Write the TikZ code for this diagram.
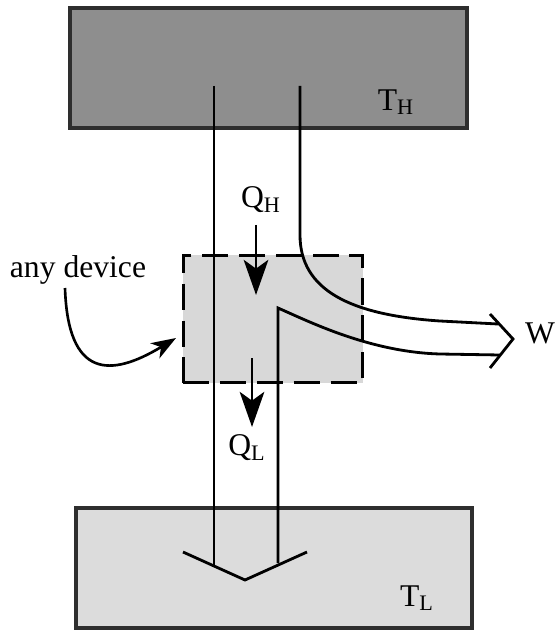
\documentclass[tikz,border=0pt]{standalone}
\usepackage{fontspec}
\setmainfont{Liberation Serif}
\usetikzlibrary{arrows.meta}
\definecolor{hotfill}{HTML}{8E8E8E}
\definecolor{coldfill}{HTML}{DCDCDC}
\definecolor{devfill}{HTML}{D8D8D8}
\definecolor{edge}{HTML}{2E2E2E}
\tikzset{reservoir/.style={draw=edge,line width=2.3pt,minimum width=7.94cm,minimum height=2.4cm,inner sep=0pt},
devbox/.style={draw=black,fill=devfill,line width=1.7pt,dash pattern=on 15pt off 6pt,minimum width=3.6cm,minimum height=2.56cm,inner sep=0pt},
flow/.style={line width=1.6pt,black,line join=miter},
heat/.style={-{Stealth[length=20pt,width=14pt,inset=5pt]},line width=1.6pt},
lab/.style={font=\fontsize{18}{20}\selectfont,text=black,inner sep=0pt}}

\begin{document}
\begin{tikzpicture}[x=0.02cm,y=-0.02cm]
\useasboundingbox (0,0) rectangle (555,634);
\node[reservoir,fill=hotfill] (hot) at (268.5,68) {};
\node[reservoir,fill=coldfill] (cold) at (274,568) {};
\node[devbox] (device) at (273,319) {};
\node[lab] (th) at (396,102) {T\textsubscript{H}};
\node[lab] (tl) at (417,598) {T\textsubscript{L}};
\node[lab] (qh) at (261,200) {Q\textsubscript{H}};
\node[lab] (ql) at (247,448) {Q\textsubscript{L}};
\node[lab] (w) at (540,333) {W};
\node[lab] (any) at (78,270) {any device};
\coordinate (hl) at (214,86);
\coordinate (hr) at (300,86);
\coordinate (ct) at (245,580);
\coordinate (wt) at (513,339);
% heat flow through the device
\draw[flow] (hl) -- (214,565);
\draw[flow] (hr) -- (300,235) .. controls (300,290) and (350,315) .. (440,321) -- (498,324);
\draw[flow] (278,563) -- (278,308) .. controls (310,322) and (370,352) .. (440,354) -- (500,355);
\draw[flow] (183,552) -- (ct) -- (307,552);
\draw[flow] (490,314) -- (wt) -- (490,368);
\draw[heat] (256,225) -- (256,295);
\draw[heat] (252,358) -- (252,427);
\draw[-{Stealth[length=14pt,width=10pt,inset=4pt]},line width=1.5pt] (65,288) .. controls (68,378) and (110,378) .. (176,338);
\end{tikzpicture}
\end{document}
